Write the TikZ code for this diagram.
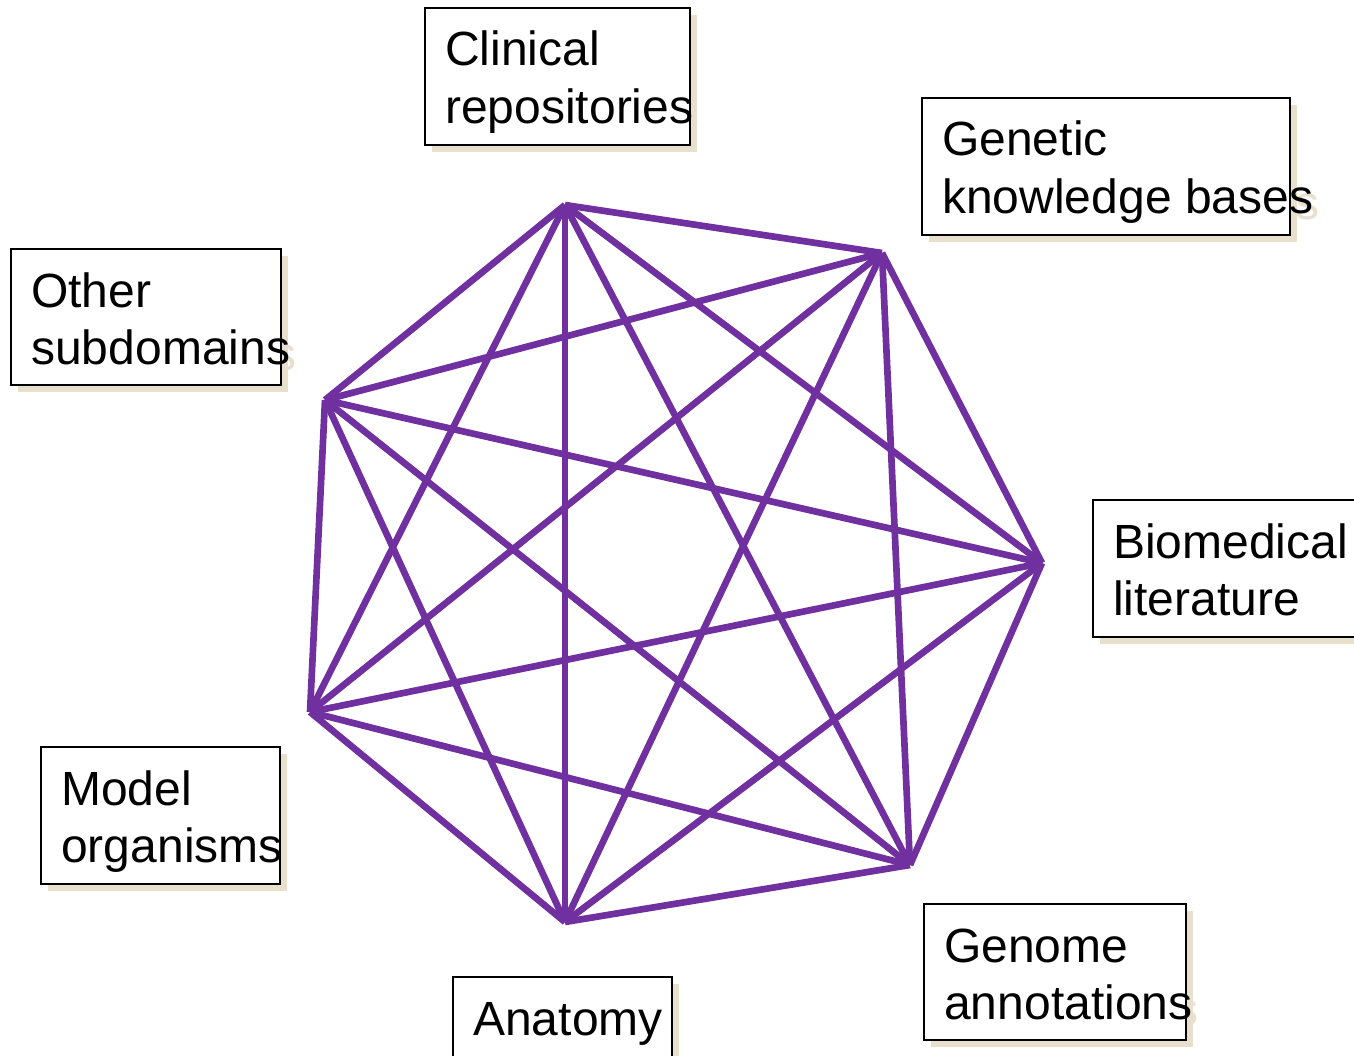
\documentclass[tikz,border=0pt]{standalone}
\usepackage{fontspec}
\newfontfamily\lf{Liberation Sans}
\usetikzlibrary{fit}
\definecolor{vio}{RGB}{112,48,160}
\definecolor{shad}{RGB}{232,224,204}
\tikzset{
  shadowbox/.style={fill=shad, draw=none, inner sep=0pt},
  lbox/.style={draw=black, line width=1.3pt, fill=white, inner sep=0pt},
  lbl/.style={anchor=base west, inner sep=0pt, font=\lf\fontsize{36}{42}\selectfont, text=black},
  slbl/.style={lbl, text=shad},
  link/.style={draw=vio, line width=5pt, line join=miter}
}
\begin{document}
\begin{tikzpicture}[x=0.75pt,y=-0.75pt]
\useasboundingbox (0,0) rectangle (1354,1056);
% vertices
\coordinate (v1) at (565,205);
\coordinate (v2) at (882,253);
\coordinate (v3) at (1042,563);
\coordinate (v4) at (910,865);
\coordinate (v5) at (565,922);
\coordinate (v6) at (310,712);
\coordinate (v7) at (325,400);
\foreach \i in {1,...,7}{
  \foreach \j in {1,...,7}{
    \ifnum\i<\j \draw[link] (v\i) -- (v\j); \fi
  }
}
% boxes
% Clinical
\node[shadowbox, fit={(432,15) (697,152)}] (b1s) {};
\node[slbl] (t1as) at (451,72) {Clinical};
\node[slbl] (t1bs) at (451,129) {repositories};
\node[lbox, fit={(425,8) (690,145)}] (b1) {};
\node[lbl] (t1a) at (445,66) {Clinical};
\node[lbl] (t1b) at (445,123) {repositories};
% Genetic
\node[shadowbox, fit={(929,105) (1297,242)}] (b2s) {};
\node[slbl] (t2as) at (948,162) {Genetic};
\node[slbl] (t2bs) at (948,219) {knowledge bases};
\node[lbox, fit={(922,98) (1290,235)}] (b2) {};
\node[lbl] (t2a) at (942,156) {Genetic};
\node[lbl] (t2b) at (942,213) {knowledge bases};
% Other
\node[shadowbox, fit={(18,256) (288,392)}] (b7s) {};
\node[slbl] (t7as) at (37,313) {Other};
\node[slbl] (t7bs) at (37,370) {subdomains};
\node[lbox, fit={(11,249) (281,385)}] (b7) {};
\node[lbl] (t7a) at (31,307) {Other};
\node[lbl] (t7b) at (31,364) {subdomains};
% Biomedical
\node[shadowbox, fit={(1100,507) (1360,644)}] (b3s) {};
\node[lbox, fit={(1093,500) (1362,637)}] (b3) {};
\node[lbl] (t3a) at (1113,558) {Biomedical};
\node[lbl] (t3b) at (1113,615) {literature};
% Model
\node[shadowbox, fit={(48,754) (287,891)}] (b6s) {};
\node[slbl] (t6as) at (67,811) {Model};
\node[slbl] (t6bs) at (67,868) {organisms};
\node[lbox, fit={(41,747) (280,884)}] (b6) {};
\node[lbl] (t6a) at (61,805) {Model};
\node[lbl] (t6b) at (61,862) {organisms};
% Genome
\node[shadowbox, fit={(931,911) (1193,1047)}] (b4s) {};
\node[slbl] (t4as) at (950,968) {Genome};
\node[slbl] (t4bs) at (950,1025) {annotations};
\node[lbox, fit={(924,904) (1186,1040)}] (b4) {};
\node[lbl] (t4a) at (944,962) {Genome};
\node[lbl] (t4b) at (944,1019) {annotations};
% Anatomy
\node[shadowbox, fit={(460,984) (679,1062)}] (b5s) {};
\node[lbox, fit={(453,977) (672,1062)}] (b5) {};
\node[lbl] (t5a) at (473,1035) {Anatomy};
\end{tikzpicture}
\end{document}
